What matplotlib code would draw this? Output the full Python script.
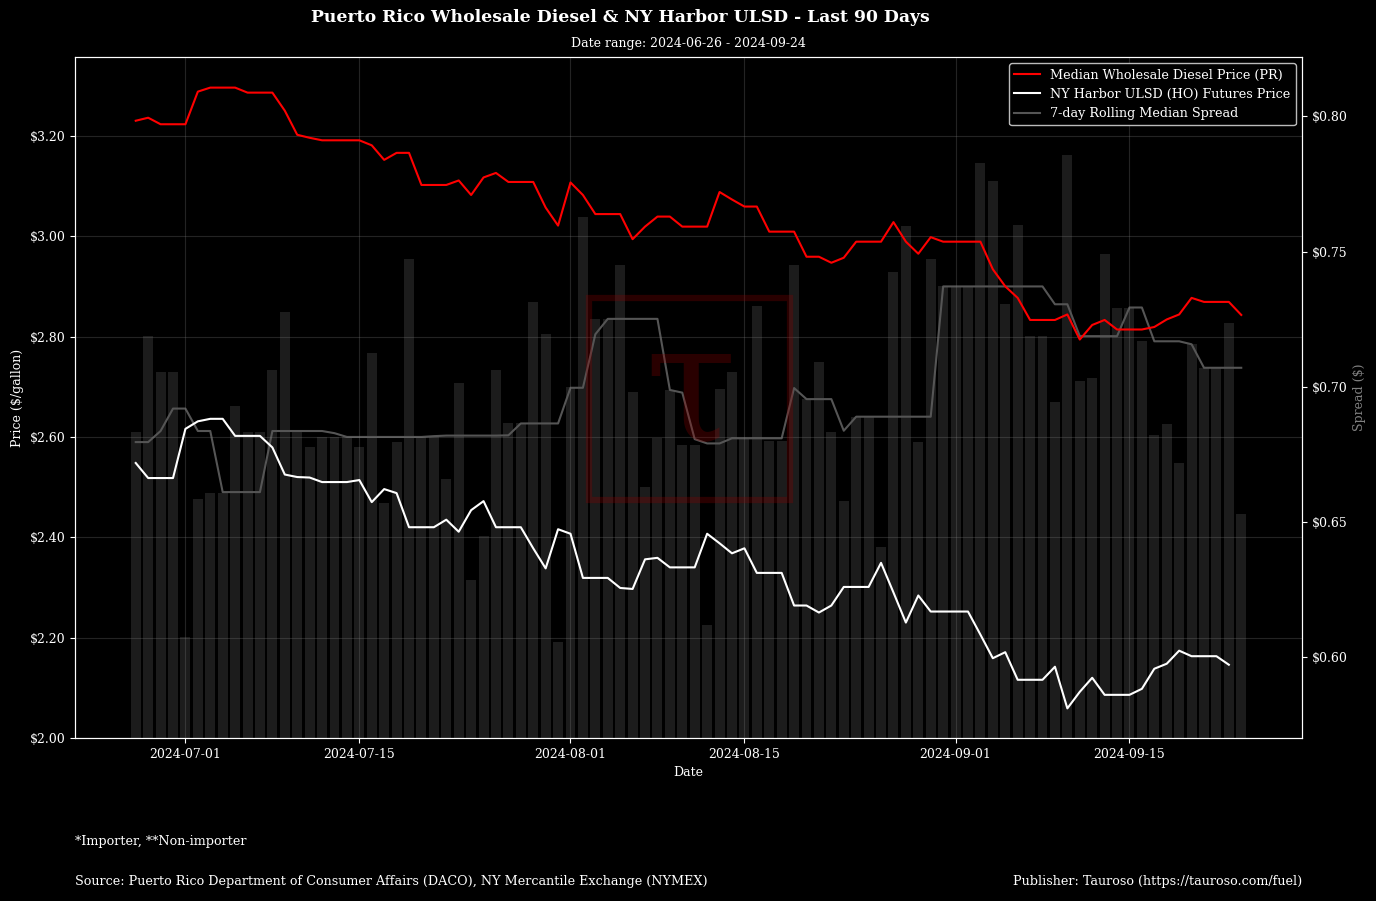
import matplotlib.pyplot as plt
import matplotlib.dates as mdates
import matplotlib.ticker as mticker
from matplotlib.patches import Rectangle
import numpy as np
import pandas as pd

plt.rcParams['font.family'] = ['DejaVu Serif']

dates = pd.date_range('2024-06-27', '2024-09-24', freq='D')

# median PR wholesale diesel ($/gal)
pr_price = [3.230, 3.236, 3.223, 3.223, 3.223, 3.288, 3.296, 3.296, 3.296, 3.286,
            3.286, 3.286, 3.250, 3.202, 3.196, 3.191, 3.191, 3.191, 3.191, 3.181,
            3.152, 3.166, 3.166, 3.102, 3.102, 3.102, 3.111, 3.082, 3.117, 3.126,
            3.108, 3.108, 3.108, 3.057, 3.021, 3.107, 3.082, 3.044, 3.044, 3.044,
            2.994, 3.019, 3.039, 3.039, 3.019, 3.019, 3.019, 3.088, 3.073, 3.059,
            3.059, 3.009, 3.009, 3.009, 2.959, 2.959, 2.947, 2.957, 2.989, 2.989,
            2.989, 3.028, 2.989, 2.965, 2.998, 2.989, 2.989, 2.989, 2.989, 2.934,
            2.900, 2.877, 2.833, 2.833, 2.833, 2.844, 2.794, 2.823, 2.833, 2.814,
            2.814, 2.814, 2.819, 2.834, 2.844, 2.877, 2.869, 2.869, 2.869, 2.843]

# NY Harbor ULSD futures ($/gal), last day missing
ho_price = [2.548, 2.518, 2.518, 2.518, 2.616, 2.631, 2.636, 2.636, 2.602, 2.602,
            2.602, 2.579, 2.525, 2.520, 2.519, 2.510, 2.510, 2.510, 2.514, 2.470,
            2.496, 2.488, 2.420, 2.420, 2.420, 2.435, 2.411, 2.454, 2.472, 2.420,
            2.420, 2.420, 2.378, 2.338, 2.416, 2.407, 2.319, 2.319, 2.319, 2.299,
            2.297, 2.356, 2.359, 2.340, 2.340, 2.340, 2.407, 2.388, 2.368, 2.378,
            2.329, 2.329, 2.329, 2.264, 2.264, 2.250, 2.264, 2.301, 2.301, 2.301,
            2.349, 2.290, 2.230, 2.284, 2.252, 2.252, 2.252, 2.252, 2.206, 2.159,
            2.171, 2.116, 2.116, 2.116, 2.142, 2.059, 2.092, 2.120, 2.086, 2.086,
            2.086, 2.098, 2.138, 2.148, 2.174, 2.163, 2.163, 2.163, 2.146, np.nan]

# daily spread ($)
spread = [0.6834, 0.7188, 0.7053, 0.7053, 0.6073, 0.6583, 0.6608, 0.6608, 0.6928, 0.6834,
          0.6834, 0.7063, 0.7275, 0.6834, 0.6778, 0.6812, 0.6812, 0.6812, 0.6775, 0.7123,
          0.6571, 0.6794, 0.7472, 0.6812, 0.6812, 0.6660, 0.7012, 0.6284, 0.6449, 0.7063,
          0.6864, 0.6864, 0.7313, 0.7194, 0.6054, 0.6999, 0.7628, 0.7249, 0.7251, 0.7449,
          0.6979, 0.6630, 0.6809, 0.6989, 0.6786, 0.6786, 0.6120, 0.6993, 0.7053, 0.6810,
          0.7300, 0.6799, 0.6799, 0.7449, 0.6954, 0.7090, 0.6834, 0.6576, 0.6889, 0.6889,
          0.6407, 0.7424, 0.7594, 0.6794, 0.7472, 0.7371, 0.7371, 0.7371, 0.7828, 0.7760,
          0.7305, 0.7598, 0.7187, 0.7187, 0.6942, 0.7856, 0.7020, 0.7034, 0.7491, 0.7292,
          0.7292, 0.7168, 0.6820, 0.6861, 0.6716, 0.7157, 0.7070, 0.7070, 0.7234, 0.6530]

# 7-day rolling median spread ($)
spread_7d = [0.6795, 0.6795, 0.6836, 0.6919, 0.6919, 0.6836, 0.6836, 0.6610, 0.6610, 0.6610,
             0.6610, 0.6836, 0.6836, 0.6836, 0.6836, 0.6836, 0.6828, 0.6814, 0.6814, 0.6814,
             0.6814, 0.6814, 0.6814, 0.6814, 0.6817, 0.6819, 0.6819, 0.6819, 0.6819, 0.6819,
             0.6820, 0.6864, 0.6864, 0.6864, 0.6864, 0.6996, 0.6996, 0.7194, 0.7251, 0.7251,
             0.7251, 0.7251, 0.7251, 0.6988, 0.6978, 0.6806, 0.6790, 0.6790, 0.6809, 0.6809,
             0.6809, 0.6809, 0.6809, 0.6995, 0.6954, 0.6954, 0.6954, 0.6837, 0.6889, 0.6889,
             0.6889, 0.6889, 0.6889, 0.6889, 0.6889, 0.7371, 0.7371, 0.7371, 0.7371, 0.7371,
             0.7371, 0.7371, 0.7371, 0.7371, 0.7305, 0.7305, 0.7187, 0.7187, 0.7187, 0.7187,
             0.7293, 0.7293, 0.7168, 0.7168, 0.7168, 0.7157, 0.7070, 0.7070, 0.7070, 0.7070]

W, H = 1376, 901
fig = plt.figure(figsize=(W / 100, H / 100), dpi=100, facecolor='black')
ax = fig.add_axes([75 / W, 1 - 738 / H, (1302 - 75) / W, (738 - 57) / H])
ax2 = ax.twinx()
ax.set_zorder(ax2.get_zorder() + 1)
ax.patch.set_visible(False)
ax2.patch.set_visible(True)
ax2.patch.set_facecolor('black')

# spread bars + rolling median on the right axis
ax2.bar(dates, spread, width=0.8, color='#1c1c1c', zorder=1)
l3, = ax2.plot(dates, spread_7d, color='#555555', lw=1.5, zorder=2,
               label='7-day Rolling Median Spread')

# prices on the left axis
l1, = ax.plot(dates, pr_price, color='red', lw=1.5, label='Median Wholesale Diesel Price (PR)')
l2, = ax.plot(dates, ho_price, color='white', lw=1.5, label='NY Harbor ULSD (HO) Futures Price')

ax.set_ylim(2.0, 3.357)
ax2.set_ylim(0.570, 0.822)
ax.yaxis.set_major_locator(mticker.MultipleLocator(0.2))
ax2.yaxis.set_major_locator(mticker.MultipleLocator(0.05))
ax.yaxis.set_major_formatter(mticker.StrMethodFormatter('${x:.2f}'))
ax2.yaxis.set_major_formatter(mticker.StrMethodFormatter('${x:.2f}'))
ax.xaxis.set_major_locator(mdates.DayLocator(bymonthday=[1, 15]))
ax.xaxis.set_major_formatter(mdates.DateFormatter('%Y-%m-%d'))

ax.grid(True, color='#808080', alpha=0.28, lw=0.8)

for a in (ax, ax2):
    a.tick_params(colors='white', labelsize=9)
    for s in a.spines.values():
        s.set_color('white')

ax.set_xlabel('Date', color='white', fontsize=9)
ax.set_ylabel('Price ($/gallon)', color='white', fontsize=9)
ax2.set_ylabel('Spread ($)', color='#808080', fontsize=9)

leg = ax.legend(handles=[l1, l2, l3], loc='upper right', fontsize=9.2,
                facecolor='black', edgecolor='#bbbbbb', framealpha=1, labelcolor='white')

# faint watermark
fig.patches.append(Rectangle((589 / W, 1 - 500 / H), 201 / W, 202 / H, transform=fig.transFigure,
                             fill=False, edgecolor='#8b0000', alpha=0.3, lw=4.5, zorder=10))
fig.text(690 / W, 1 - 395 / H, 'τ', ha='center', va='center', fontsize=120,
         color='#8b0000', alpha=0.3, zorder=10)

fig.text(0.451, 1 - 18 / H, 'Puerto Rico Wholesale Diesel & NY Harbor ULSD - Last 90 Days',
         ha='center', va='center', color='white', fontsize=12.4, fontweight='bold')
fig.text(688 / W, 1 - 44 / H, 'Date range: 2024-06-26 - 2024-09-24',
         ha='center', va='center', color='white', fontsize=9)
fig.text(75 / W, 1 - 841 / H, '*Importer, **Non-importer', ha='left', va='center',
         color='white', fontsize=9.2)
fig.text(75 / W, 1 - 882 / H,
         'Source: Puerto Rico Department of Consumer Affairs (DACO), NY Mercantile Exchange (NYMEX)',
         ha='left', va='center', color='white', fontsize=9.2)
fig.text(1302 / W, 1 - 882 / H, 'Publisher: Tauroso (https://tauroso.com/fuel)',
         ha='right', va='center', color='white', fontsize=9.2)

fig.savefig('out.png', dpi=100, facecolor='black')
plt.close(fig)
